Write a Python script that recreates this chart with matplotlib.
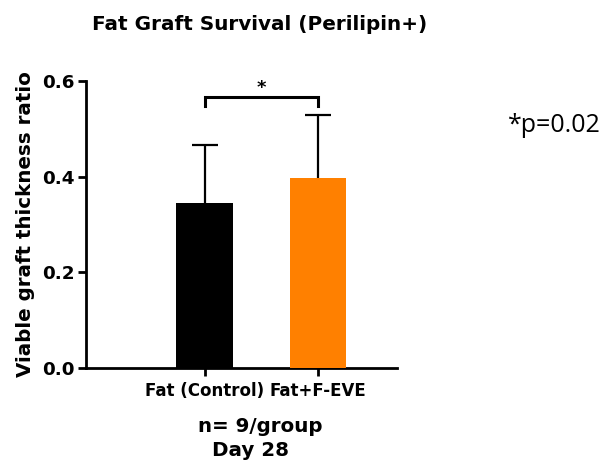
import matplotlib
matplotlib.use("Agg")
import matplotlib.pyplot as plt

groups = ["Fat (Control)", "Fat+F-EVE"]
means = [0.345, 0.398]
sd = [0.122, 0.130]
bar_colors = ["#000000", "#FF8000"]
yticks = [0.0, 0.2, 0.4, 0.6]
p_label = "*p=0.02"

plt.rcParams["font.family"] = ["DejaVu Sans"]

fig = plt.figure(figsize=(6.07, 4.63), dpi=100)
ax = fig.add_axes([86 / 607, 1 - 368 / 463, (397 - 86) / 607, (368 - 81) / 463])

x = list(range(len(groups)))
# bars sit above the error bars so only the upper whisker shows
ax.bar(x, means, width=0.5, color=bar_colors, zorder=3)
ax.errorbar(x, means, yerr=sd, fmt="none",
            ecolor="black", elinewidth=1.6, capsize=9.5, capthick=1.6, zorder=2)

ax.set_xlim(-1.05, 1.70)
ax.set_ylim(0, 0.6)
ax.set_yticks(yticks)
ax.set_yticklabels([f"{v:.1f}" for v in yticks], fontsize=13.2, fontweight="bold")
ax.set_xticks(x)
ax.set_xticklabels(groups, fontsize=12, fontweight="bold")
ax.tick_params(axis="both", direction="out", length=6, width=2)
ax.tick_params(axis="y", pad=2)
ax.tick_params(axis="x", pad=4)

for side in ("top", "right"):
    ax.spines[side].set_visible(False)
for side in ("left", "bottom"):
    ax.spines[side].set_linewidth(2)

ax.set_ylabel("Viable graft thickness ratio", fontsize=14.3, fontweight="bold", labelpad=5)

# significance bracket
y_br, y_leg = 0.566, 0.547
ax.plot([0, 0, 1, 1], [y_leg, y_br, y_br, y_leg], color="black", lw=2.2,
        solid_joinstyle="miter", clip_on=False)
ax.text(0.5, y_br + 0.001, "*", ha="center", va="bottom", fontsize=13, fontweight="bold")

fig.text(260 / 607, 1 - 25 / 463, "Fat Graft Survival (Perilipin+)", ha="center", va="center",
         fontsize=14.4, fontweight="bold")
fig.text(508 / 607, 1 - 126 / 463, p_label, ha="left", va="center", fontsize=18,
         family=["Open Sans", "DejaVu Sans"])
fig.text(260 / 607, 1 - 427 / 463, "n= 9/group", ha="center", va="center",
         fontsize=14.3, fontweight="bold")
fig.text(250 / 607, 1 - 450 / 463, "Day 28", ha="center", va="center",
         fontsize=14.3, fontweight="bold")

fig.savefig("out.png", dpi=100)
